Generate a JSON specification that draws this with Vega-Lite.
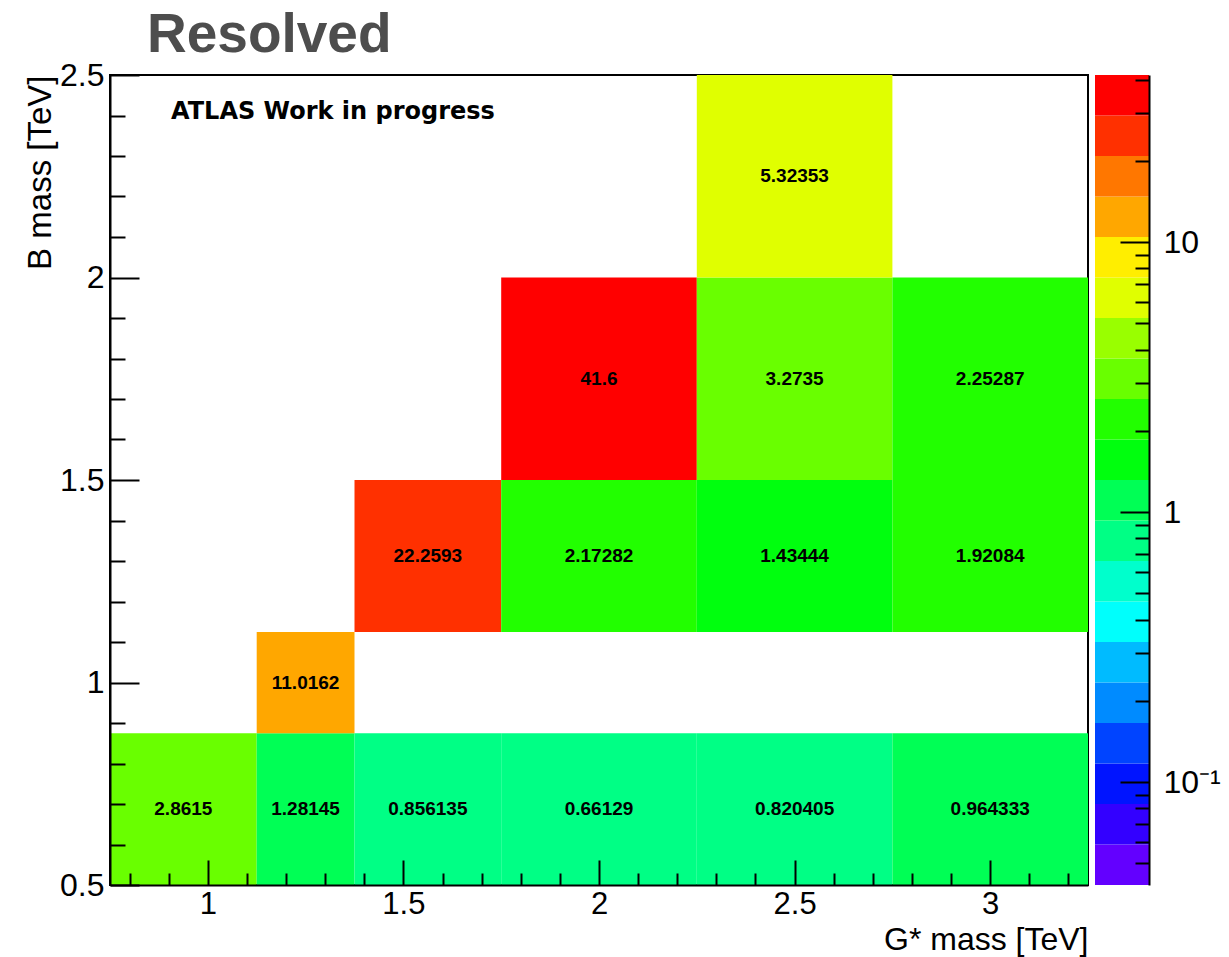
{
  "$schema": "https://vega.github.io/schema/vega-lite/v6.json",
  "background": "white",
  "padding": {"left": 23, "top": 8, "right": 0, "bottom": 0},
  "title": {
    "text": "Resolved",
    "anchor": "start",
    "frame": "group",
    "dx": 37,
    "offset": -6,
    "font": "Liberation Sans",
    "fontSize": 55,
    "fontWeight": "bold",
    "color": "#4d4d4d"
  },
  "datasets": {
    "cells": [
      {"g0": 0.75, "g1": 1.125, "gc": 0.9375, "b0": 0.5, "b1": 0.875, "bc": 0.6875, "v": 2.8615},
      {"g0": 1.125, "g1": 1.375, "gc": 1.25, "b0": 0.5, "b1": 0.875, "bc": 0.6875, "v": 1.28145},
      {"g0": 1.375, "g1": 1.75, "gc": 1.5625, "b0": 0.5, "b1": 0.875, "bc": 0.6875, "v": 0.856135},
      {"g0": 1.75, "g1": 2.25, "gc": 2.0, "b0": 0.5, "b1": 0.875, "bc": 0.6875, "v": 0.66129},
      {"g0": 2.25, "g1": 2.75, "gc": 2.5, "b0": 0.5, "b1": 0.875, "bc": 0.6875, "v": 0.820405},
      {"g0": 2.75, "g1": 3.25, "gc": 3.0, "b0": 0.5, "b1": 0.875, "bc": 0.6875, "v": 0.964333},
      {"g0": 1.125, "g1": 1.375, "gc": 1.25, "b0": 0.875, "b1": 1.125, "bc": 1.0, "v": 11.0162},
      {"g0": 1.375, "g1": 1.75, "gc": 1.5625, "b0": 1.125, "b1": 1.5, "bc": 1.3125, "v": 22.2593},
      {"g0": 1.75, "g1": 2.25, "gc": 2.0, "b0": 1.125, "b1": 1.5, "bc": 1.3125, "v": 2.17282},
      {"g0": 2.25, "g1": 2.75, "gc": 2.5, "b0": 1.125, "b1": 1.5, "bc": 1.3125, "v": 1.43444},
      {"g0": 2.75, "g1": 3.25, "gc": 3.0, "b0": 1.125, "b1": 1.5, "bc": 1.3125, "v": 1.92084},
      {"g0": 1.75, "g1": 2.25, "gc": 2.0, "b0": 1.5, "b1": 2.0, "bc": 1.75, "v": 41.6},
      {"g0": 2.25, "g1": 2.75, "gc": 2.5, "b0": 1.5, "b1": 2.0, "bc": 1.75, "v": 3.2735},
      {"g0": 2.75, "g1": 3.25, "gc": 3.0, "b0": 1.5, "b1": 2.0, "bc": 1.75, "v": 2.25287},
      {"g0": 2.25, "g1": 2.75, "gc": 2.5, "b0": 2.0, "b1": 2.5, "bc": 2.25, "v": 5.32353}
    ],
    "bands": [
      {"lo": 0.0416, "hi": 0.058762},
      {"lo": 0.058762, "hi": 0.083003},
      {"lo": 0.083003, "hi": 0.117245},
      {"lo": 0.117245, "hi": 0.165613},
      {"lo": 0.165613, "hi": 0.233934},
      {"lo": 0.233934, "hi": 0.330441},
      {"lo": 0.330441, "hi": 0.46676},
      {"lo": 0.46676, "hi": 0.659316},
      {"lo": 0.659316, "hi": 0.931308},
      {"lo": 0.931308, "hi": 1.315508},
      {"lo": 1.315508, "hi": 1.858204},
      {"lo": 1.858204, "hi": 2.624783},
      {"lo": 2.624783, "hi": 3.707604},
      {"lo": 3.707604, "hi": 5.23713},
      {"lo": 5.23713, "hi": 7.397643},
      {"lo": 7.397643, "hi": 10.449448},
      {"lo": 10.449448, "hi": 14.760237},
      {"lo": 14.760237, "hi": 20.849389},
      {"lo": 20.849389, "hi": 29.450545},
      {"lo": 29.450545, "hi": 41.6}
    ]
  },
  "bounds": "flush",
  "spacing": 7,
  "resolve": {"scale": {"color": "independent"}},
  "hconcat": [
    {
      "width": 978,
      "height": 810,
      "view": {"stroke": "black", "strokeWidth": 2},
      "title": {
        "text": "ATLAS Work in progress",
        "anchor": "start",
        "frame": "group",
        "orient": "top",
        "dx": 61,
        "offset": -84,
        "baseline": "alphabetic",
        "font": "DejaVu Sans",
        "fontSize": 24,
        "fontWeight": "bold",
        "color": "black"
      },
      "data": {"name": "cells"},
      "layer": [
        {
          "mark": {"type": "rect"},
          "encoding": {
            "x": {
              "field": "g0",
              "type": "quantitative",
              "scale": {"domain": [0.75, 3.25], "nice": false, "zero": false},
              "axis": {
                "orient": "bottom",
                "values": [0.8, 0.9, 1, 1.1, 1.2, 1.3, 1.4, 1.5, 1.6, 1.7, 1.8, 1.9, 2, 2.1, 2.2, 2.3, 2.4, 2.5, 2.6, 2.7, 2.8, 2.9, 3, 3.1, 3.2],
                "format": "~g",
                "labelExpr": "abs(datum.value * 2 - round(datum.value * 2)) < 0.001 ? datum.label : ''",
                "title": "G* mass [TeV]",
                "titleAnchor": "end",
                "titleAlign": "right",
                "titleBaseline": "alphabetic",
                "titleY": 64.5,
                "titleFontSize": 32,
                "labelFontSize": 31,
                "labelPadding": 29,
                "labelFlush": false,
                "labelOverlap": false,
                "tickSize": {"condition": {"test": "abs(datum.value * 2 - round(datum.value * 2)) < 0.001", "value": -25}, "value": -12},
                "tickWidth": 2,
                "domainWidth": 2,
                "zindex": 1
              }
            },
            "x2": {"field": "g1"},
            "y": {
              "field": "b0",
              "type": "quantitative",
              "scale": {"domain": [0.5, 2.5], "nice": false, "zero": false},
              "axis": {
                "orient": "left",
                "values": [0.5, 0.6, 0.7, 0.8, 0.9, 1, 1.1, 1.2, 1.3, 1.4, 1.5, 1.6, 1.7, 1.8, 1.9, 2, 2.1, 2.2, 2.3, 2.4, 2.5],
                "format": "~g",
                "labelExpr": "abs(datum.value * 2 - round(datum.value * 2)) < 0.001 ? datum.label : ''",
                "title": "B mass [TeV]",
                "titleAnchor": "end",
                "titleAngle": 270,
                "titleAlign": "right",
                "titleBaseline": "alphabetic",
                "titleX": -60,
                "titleY": 0,
                "titleFontSize": 33,
                "labelFontSize": 32,
                "labelPadding": 35,
                "labelFlush": false,
                "labelOverlap": false,
                "tickSize": {"condition": {"test": "abs(datum.value * 2 - round(datum.value * 2)) < 0.001", "value": -29}, "value": -15},
                "tickWidth": 2,
                "domainWidth": 2,
                "zindex": 1
              }
            },
            "y2": {"field": "b1"},
            "color": {
              "field": "v",
              "type": "quantitative",
              "scale": {
                "type": "threshold",
                "domain": [0.058762, 0.083003, 0.117245, 0.165613, 0.233934, 0.330441, 0.46676, 0.659316, 0.931308, 1.315508, 1.858204, 2.624783, 3.707604, 5.23713, 7.397643, 10.449448, 14.760237, 20.849389, 29.450545],
                "range": ["#6300ff", "#3300ff", "#0014ff", "#0044ff", "#008bff", "#00bbff", "#00fffc", "#00ffcc", "#00ff85", "#00ff55", "#00ff0e", "#22ff00", "#69ff00", "#99ff00", "#e0ff00", "#ffee00", "#ffa700", "#ff7700", "#ff3000", "#ff0000"]
              },
              "legend": null
            }
          }
        },
        {
          "mark": {"type": "text", "font": "Liberation Sans", "fontWeight": "bold", "fontSize": 19, "color": "black", "baseline": "middle", "align": "center"},
          "encoding": {
            "x": {"field": "gc", "type": "quantitative"},
            "y": {"field": "bc", "type": "quantitative"},
            "text": {"field": "v", "type": "quantitative", "format": ".6~g"}
          }
        }
      ]
    },
    {
      "width": 54,
      "height": 810,
      "data": {"name": "bands"},
      "mark": {"type": "rect"},
      "encoding": {
        "y": {
          "field": "lo",
          "type": "quantitative",
          "scale": {"type": "log", "domain": [0.0416, 41.6], "nice": false},
          "axis": {
            "orient": "right",
            "values": [0.05, 0.06, 0.07, 0.08, 0.09, 0.1, 0.2, 0.3, 0.4, 0.5, 0.6, 0.7, 0.8, 0.9, 1, 2, 3, 4, 5, 6, 7, 8, 9, 10, 20, 30, 40],
            "labelExpr": "datum.value == 10 ? '10' : datum.value == 1 ? '1' : datum.value == 0.1 ? '10⁻¹' : ''",
            "title": null,
            "labelFontSize": 32,
            "labelPadding": 43,
            "labelBaseline": "middle",
            "labelFlush": false,
            "labelOverlap": false,
            "tickSize": {"condition": {"test": "datum.value == 10 || datum.value == 1 || datum.value == 0.1", "value": -29}, "value": -14},
            "tickWidth": 2,
            "domainWidth": 2,
            "zindex": 1
          }
        },
        "y2": {"field": "hi"},
        "color": {
          "field": "lo",
          "type": "quantitative",
          "scale": {
            "type": "threshold",
            "domain": [0.058762, 0.083003, 0.117245, 0.165613, 0.233934, 0.330441, 0.46676, 0.659316, 0.931308, 1.315508, 1.858204, 2.624783, 3.707604, 5.23713, 7.397643, 10.449448, 14.760237, 20.849389, 29.450545],
            "range": ["#6300ff", "#3300ff", "#0014ff", "#0044ff", "#008bff", "#00bbff", "#00fffc", "#00ffcc", "#00ff85", "#00ff55", "#00ff0e", "#22ff00", "#69ff00", "#99ff00", "#e0ff00", "#ffee00", "#ffa700", "#ff7700", "#ff3000", "#ff0000"]
          },
          "legend": null
        }
      }
    }
  ],
  "config": {
    "font": "Liberation Sans",
    "view": {"stroke": null},
    "axis": {
      "labelFont": "Liberation Sans",
      "titleFont": "Liberation Sans",
      "titleFontWeight": "normal",
      "labelColor": "black",
      "titleColor": "black",
      "tickColor": "black",
      "domainColor": "black",
      "grid": false
    }
  }
}
